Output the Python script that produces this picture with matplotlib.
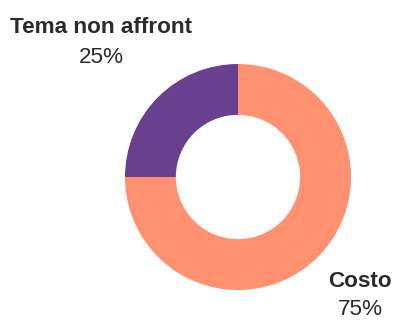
import matplotlib.pyplot as plt

# Dati del grafico ad anello
categorie = ["Costo", "Tema non affront"]
valori = [75, 25]
colori = ["#FF9170", "#693F8F"]

# Posizioni delle etichette (pixel, origine in basso a sinistra)
pos_etichette = [(360, 33), (101, 287)]
scarto_percentuale = [28, 30]

W, H = 395, 320
fig = plt.figure(figsize=(W / 100, H / 100), dpi=100)
ax = fig.add_axes([0, 0, 1, 1])
ax.set_xlim(0, W)
ax.set_ylim(0, H)
ax.set_aspect("equal")
ax.axis("off")

ax.pie(valori, colors=colori, center=(238, 143), radius=113,
       startangle=90, counterclock=False,
       wedgeprops=dict(width=113 * 0.45, linewidth=0))
ax.set_xlim(0, W)
ax.set_ylim(0, H)

for nome, val, (x, y), dy in zip(categorie, valori, pos_etichette, scarto_percentuale):
    ax.text(x, y, nome, ha="center", va="baseline", fontsize=16.2,
            fontweight="bold", color="#2b2b2b", family="Liberation Sans")
    ax.text(x, y - dy, "{}%".format(val), ha="center", va="baseline",
            fontsize=16.2, color="#2b2b2b", family="Liberation Sans")

fig.savefig("out.png", dpi=100)
